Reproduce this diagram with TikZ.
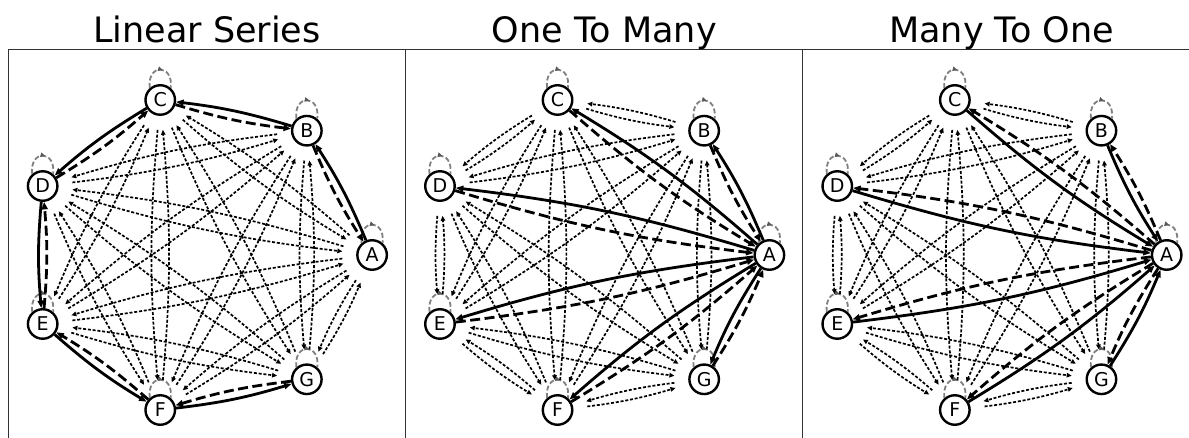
\documentclass[tikz,border=0pt]{standalone}
\usepackage{fontspec}
\setmainfont{DejaVu Sans}
\usetikzlibrary{arrows.meta,decorations.markings}
\tikzset{
  vtx/.style={circle,draw=black,line width=2.4pt,fill=white,minimum size=29.5pt,inner sep=0pt,font=\fontsize{19}{19}\selectfont},
  solidedge/.style={line width=2.8pt,-{Triangle[length=7.5pt,width=6pt]}},
  dashededge/.style={line width=2.8pt,dash pattern=on 10pt off 4.5pt,-{Triangle[length=7.5pt,width=6pt]}},
  dottededge/.style={line width=1.7pt,dash pattern=on 3pt off 1.8pt,-{Triangle[length=5pt,width=4.5pt]},shorten <=14pt,shorten >=14pt},
  selfloop/.style={draw=gray,line width=1.8pt,dash pattern=on 5pt off 2.5pt,postaction={decorate},
    decoration={markings,mark=at position 0.55 with {\arrow[gray!70!black]{Triangle[length=4.5pt,width=4.5pt]}}}},
  frameline/.style={line width=1pt,draw=black!80},
  ptitle/.style={font=\fontsize{35}{42}\selectfont,anchor=base},
}
% #1 = mode, #2 = name suffix, #3 = x offset
\newcommand\graphpanel[3]{%
  \foreach \k/\L in {0/A,1/B,2/C,3/D,4/E,5/F,6/G}{
    \node[vtx] (\L#2) at ({#3+198.8+173.3*cos(\k*360/7)},{-255+159*sin(\k*360/7)}) {\L};
  }
  \foreach \L in {A,B,C,D,E,F,G}{
    \draw[selfloop] (\L#2.131) .. controls +(-3,24.5) and +(3,24.5) .. (\L#2.49);
  }
  \foreach \pass in {0,1}{
  \foreach \i/\u in {1/A,2/B,3/C,4/D,5/E,6/F,7/G}{
    \foreach \j/\v in {1/A,2/B,3/C,4/D,5/E,6/F,7/G}{
      \ifnum\i=\j\relax\else
        \ifcase#1\relax
        \or\pgfmathtruncatemacro\kind{(\j==\i+1) ? 1 : ((\j==\i-1) ? 2 : 0)}%
        \or\pgfmathtruncatemacro\kind{(\i==1) ? 1 : ((\j==1) ? 2 : 0)}%
        \or\pgfmathtruncatemacro\kind{(\j==1) ? 1 : ((\i==1) ? 2 : 0)}%
        \fi
        \ifnum\pass=0
          \ifnum\kind=0 \draw[dottededge] (\u#2) to[bend right=5] (\v#2);\fi
        \else
          \ifnum\kind=1 \draw[solidedge] (\u#2) to[bend right=5] (\v#2);\fi
          \ifnum\kind=2 \draw[dashededge] (\u#2) to[bend right=5] (\v#2);\fi
        \fi
      \fi
    }
  }
  }
}
\begin{document}
\begin{tikzpicture}[x=1pt,y=1pt]
\useasboundingbox (0,0) rectangle (1189,-438);
\draw[frameline] (8.3,-438) -- (8.3,-49.3) -- (1189,-49.3);
\draw[frameline] (405.6,-49.3) -- (405.6,-438);
\draw[frameline] (802.9,-49.3) -- (802.9,-438);
\node[ptitle] (t1) at (207,-42.7) {Linear Series};
\node[ptitle] (t2) at (604.3,-42.7) {One To Many};
\node[ptitle] (t3) at (1001.6,-42.7) {Many To One};
\graphpanel{1}{p}{0}
\graphpanel{2}{q}{397.3}
\graphpanel{3}{r}{794.6}
\end{tikzpicture}
\end{document}
